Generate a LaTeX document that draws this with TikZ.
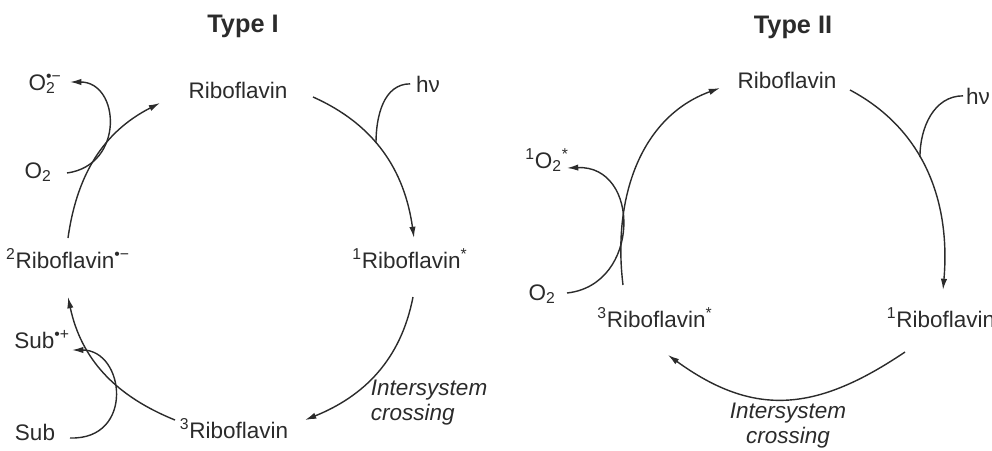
\documentclass[tikz,border=0pt]{standalone}
\usepackage{fontspec}
\setmainfont{Liberation Sans}
\usetikzlibrary{arrows.meta}
\definecolor{ink}{HTML}{2B2B2B}
\tikzset{
  specie/.style={font=\fontsize{16}{18}\selectfont, text=ink, inner sep=2pt, anchor=base},
  titlenode/.style={font=\fontsize{18}{21}\selectfont\bfseries, text=ink, anchor=base},
  labelnode/.style={font=\fontsize{16}{17.8}\selectfont\itshape, text=ink, align=left},
  rxn/.style={-{Latex[length=8pt,width=4.5pt]}, line width=1pt, draw=ink},
  feed/.style={line width=1pt, draw=ink},
}

\begin{document}
\begin{tikzpicture}[x=0.025cm, y=0.025cm]
\useasboundingbox (0,0) rectangle (992,450);

% TYPE I
\node[titlenode] (title1) at (243,418) {Type I};
\node[specie] (rib) at (238,352) {Riboflavin};
\node[specie] (rib1) at (410,182) {\textsuperscript{1}Riboflavin\textsuperscript{*}};
\node[specie] (rib3) at (234,12) {\textsuperscript{3}Riboflavin};
\node[specie] (rib2) at (68,182) {\textsuperscript{2}Riboflavin\textsuperscript{•−}};
\node[specie] (hv1) at (428,358) {hν};
\node[specie] (o2a) at (38,272) {O\textsubscript{2}};
\node[specie] (sup) at (45,360) {O\rlap{\textsubscript{2}}\textsuperscript{•−}};
\node[specie] (subp) at (42,102) {Sub\textsuperscript{•+}};
\node[specie] (sub) at (35,10) {Sub};
\node[labelnode, anchor=west] (isc1) at (366,47) {Intersystem\\crossing};

% Cycle
\draw[rxn] ([shift={(75,1)}]rib.base) to[out=-24,in=98] coordinate[pos=0.43] (j1) ([shift={(4,30)}]rib1.base);
\draw[rxn] ([shift={(3,-29)}]rib1.base) to[out=-101,in=22] ([shift={(71,18)}]rib3.base);
\draw[rxn] ([shift={(-59,18)}]rib3.base) to[out=158,in=-78] ([shift={(0,-29)}]rib2.base);
\draw[rxn] ([shift={(0,30)}]rib2.base) to[out=82,in=-153] ([shift={(-78,-5)}]rib.base);

% Side reactions
\draw[feed] ([xshift=-2pt]hv1.west) to[out=180,in=90] (j1);
\draw[rxn] ([shift={(29,5)}]o2a.base) .. controls +(58,8) and +(50,0) .. ([shift={(25,8)}]sup.base);
\draw[rxn] ([shift={(35,2)}]sub.base) .. controls +(65,-2) and +(53,0) .. ([shift={(30,-2)}]subp.base);

% TYPE II
\node[titlenode] (title2) at (793,417) {Type II};
\node[specie] (ribB) at (787,362) {Riboflavin};
\node[specie] (rib1b) at (941,123) {\textsuperscript{1}Riboflavin};
\node[specie] (rib3b) at (655,123) {\textsuperscript{3}Riboflavin\textsuperscript{*}};
\node[specie] (hv2) at (978,346) {hν};
\node[specie] (so2) at (547,282) {\textsuperscript{1}O\textsubscript{2}\textsuperscript{*}};
\node[specie] (o2b) at (542,150) {O\textsubscript{2}};
\node[labelnode, align=center] (isc2) at (788,24) {Intersystem\\crossing};

% Cycle
\draw[rxn] ([shift={(-32,42)}]rib3b.base) to[out=97,in=200] ([shift={(-67,0)}]ribB.base);
\draw[rxn] ([shift={(63,-2)}]ribB.base) to[out=-28,in=85] coordinate[pos=0.42] (j2) ([shift={(2,37)}]rib1b.base);
\draw[rxn] ([shift={(-36,-25)}]rib1b.base) to[out=-146,in=-36,looseness=1.15] ([shift={(13,-28)}]rib3b.base);

% Side reactions
\draw[feed] (hv2.west) to[out=180,in=90] (j2);
\draw[rxn] ([shift={(25,7)}]o2b.base) .. controls +(74,8) and +(74,3) .. ([shift={(20,0)}]so2.base);

\end{tikzpicture}
\end{document}
